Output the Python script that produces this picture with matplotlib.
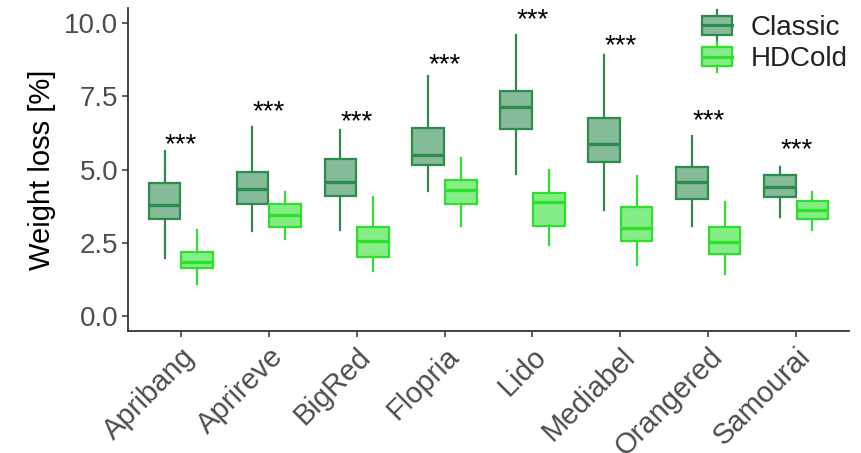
import matplotlib
matplotlib.use("Agg")
import matplotlib.pyplot as plt
from matplotlib.legend_handler import HandlerBase
from matplotlib.patches import Rectangle
from matplotlib.lines import Line2D
import numpy as np

plt.rcParams['font.family'] = ['Liberation Sans', 'DejaVu Sans']

categories = ["Apribang", "Aprireve", "BigRed", "Flopria", "Lido", "Mediabel", "Orangered", "Samourai"]
series_names = ["Classic", "HDCold"]

# five-number summaries: whisker low, Q1, median, Q3, whisker high
classic_low = [2.00, 2.89, 2.93, 4.28, 4.85, 3.63, 3.09, 3.38]
classic_q1 = [3.32, 3.83, 4.08, 5.14, 6.37, 5.24, 4.00, 4.06]
classic_med = [3.80, 4.34, 4.56, 5.50, 7.12, 5.86, 4.59, 4.42]
classic_q3 = [4.54, 4.91, 5.35, 6.42, 7.69, 6.75, 5.08, 4.82]
classic_high = [5.64, 6.46, 6.35, 8.19, 9.58, 8.92, 6.15, 5.10]

hdcold_low = [1.10, 2.64, 1.55, 3.09, 2.44, 1.73, 1.45, 2.93]
hdcold_q1 = [1.65, 3.03, 2.01, 3.83, 3.09, 2.55, 2.12, 3.32]
hdcold_med = [1.85, 3.46, 2.57, 4.30, 3.88, 2.99, 2.53, 3.61]
hdcold_q3 = [2.19, 3.83, 3.04, 4.65, 4.20, 3.71, 3.03, 3.91]
hdcold_high = [2.95, 4.23, 4.05, 5.39, 4.99, 4.79, 3.88, 4.22]

sig_labels = ["***"] * 8
sig_y = [6.0, 7.14, 6.8, 8.73, 10.26, 9.39, 6.84, 5.84]

yticks = [0.0, 2.5, 5.0, 7.5, 10.0]

edge_colors = ["#2E8B4E", "#2EE02E"]
fill_colors = [(0.18, 0.545, 0.31, 0.58), (0.18, 0.88, 0.18, 0.58)]

fig = plt.figure(figsize=(8.61, 4.53), dpi=100)
ax = fig.add_axes([0.1487, 0.269, 0.986 - 0.1487, 0.982 - 0.269])

x = np.arange(1, len(categories) + 1)
offsets = [-0.185, 0.185]
width = 0.36

series = [
    (classic_low, classic_q1, classic_med, classic_q3, classic_high),
    (hdcold_low, hdcold_q1, hdcold_med, hdcold_q3, hdcold_high),
]

for s, (lo, q1, md, q3, hi) in enumerate(series):
    stats = []
    for i in range(len(categories)):
        stats.append(dict(whislo=lo[i], q1=q1[i], med=md[i], q3=q3[i], whishi=hi[i], fliers=[]))
    ec = edge_colors[s]
    ax.bxp(stats, positions=x + offsets[s], widths=width, patch_artist=True,
           showcaps=False, showfliers=False, manage_ticks=False,
           boxprops=dict(facecolor=fill_colors[s], edgecolor=ec, linewidth=1.6),
           whiskerprops=dict(color=ec, linewidth=1.6),
           medianprops=dict(color=ec, linewidth=2.4))

for i, lab in enumerate(sig_labels):
    ax.annotate(lab, xy=(x[i], sig_y[i]), xytext=(0, -9), textcoords='offset points',
                ha='center', va='baseline', fontsize=20, color='black')

ax.set_xlim(0.4, 8.6)
ax.set_ylim(-0.51, 10.5)
ax.set_yticks(yticks)
ax.set_yticklabels([f"{v:.1f}" for v in yticks])
ax.set_xticks(x)
ax.set_xticklabels(categories, rotation=45, ha='right', rotation_mode='anchor')
ax.tick_params(axis='both', colors='#333333', labelcolor='#4D4D4D', labelsize=20,
               length=4, width=1.1, pad=3)
ax.tick_params(axis='x', labelsize=21, pad=4)
ax.set_ylabel("Weight loss [%]", fontsize=21, color='black', labelpad=6)

for side in ['top', 'right']:
    ax.spines[side].set_visible(False)
for side in ['left', 'bottom']:
    ax.spines[side].set_color('#333333')
    ax.spines[side].set_linewidth(1.3)


class BoxHandler(HandlerBase):
    def __init__(self, ec, fc):
        super().__init__()
        self.ec = ec
        self.fc = fc

    def create_artists(self, legend, orig_handle, xdescent, ydescent, width, height, fontsize, trans):
        w = width * 0.9
        x0 = xdescent * -1 + (width - w) / 2
        y0 = -ydescent
        rect = Rectangle((x0, y0 + height * 0.1), w, height * 0.8, facecolor=self.fc,
                         edgecolor=self.ec, linewidth=1.6, transform=trans)
        med = Line2D([x0, x0 + w], [y0 + height * 0.5] * 2, color=self.ec, linewidth=2.2, transform=trans)
        wh1 = Line2D([x0 + w / 2] * 2, [y0 + height * 0.9, y0 + height * 1.15], color=self.ec, linewidth=1.6, transform=trans)
        wh2 = Line2D([x0 + w / 2] * 2, [y0 - height * 0.15, y0 + height * 0.1], color=self.ec, linewidth=1.6, transform=trans)
        return [rect, med, wh1, wh2]


handles = [Rectangle((0, 0), 1, 1, label=n) for n in series_names]
hmap = {handles[i]: BoxHandler(edge_colors[i], fill_colors[i]) for i in range(2)}
ax.legend(handles, series_names, handler_map=hmap, loc='upper right', frameon=False,
          fontsize=20, handlelength=1.2, handleheight=0.9, handletextpad=0.6,
          labelspacing=0.15, bbox_to_anchor=(1.033, 1.06), labelcolor='#222222')

fig.savefig("out.png", dpi=100)
